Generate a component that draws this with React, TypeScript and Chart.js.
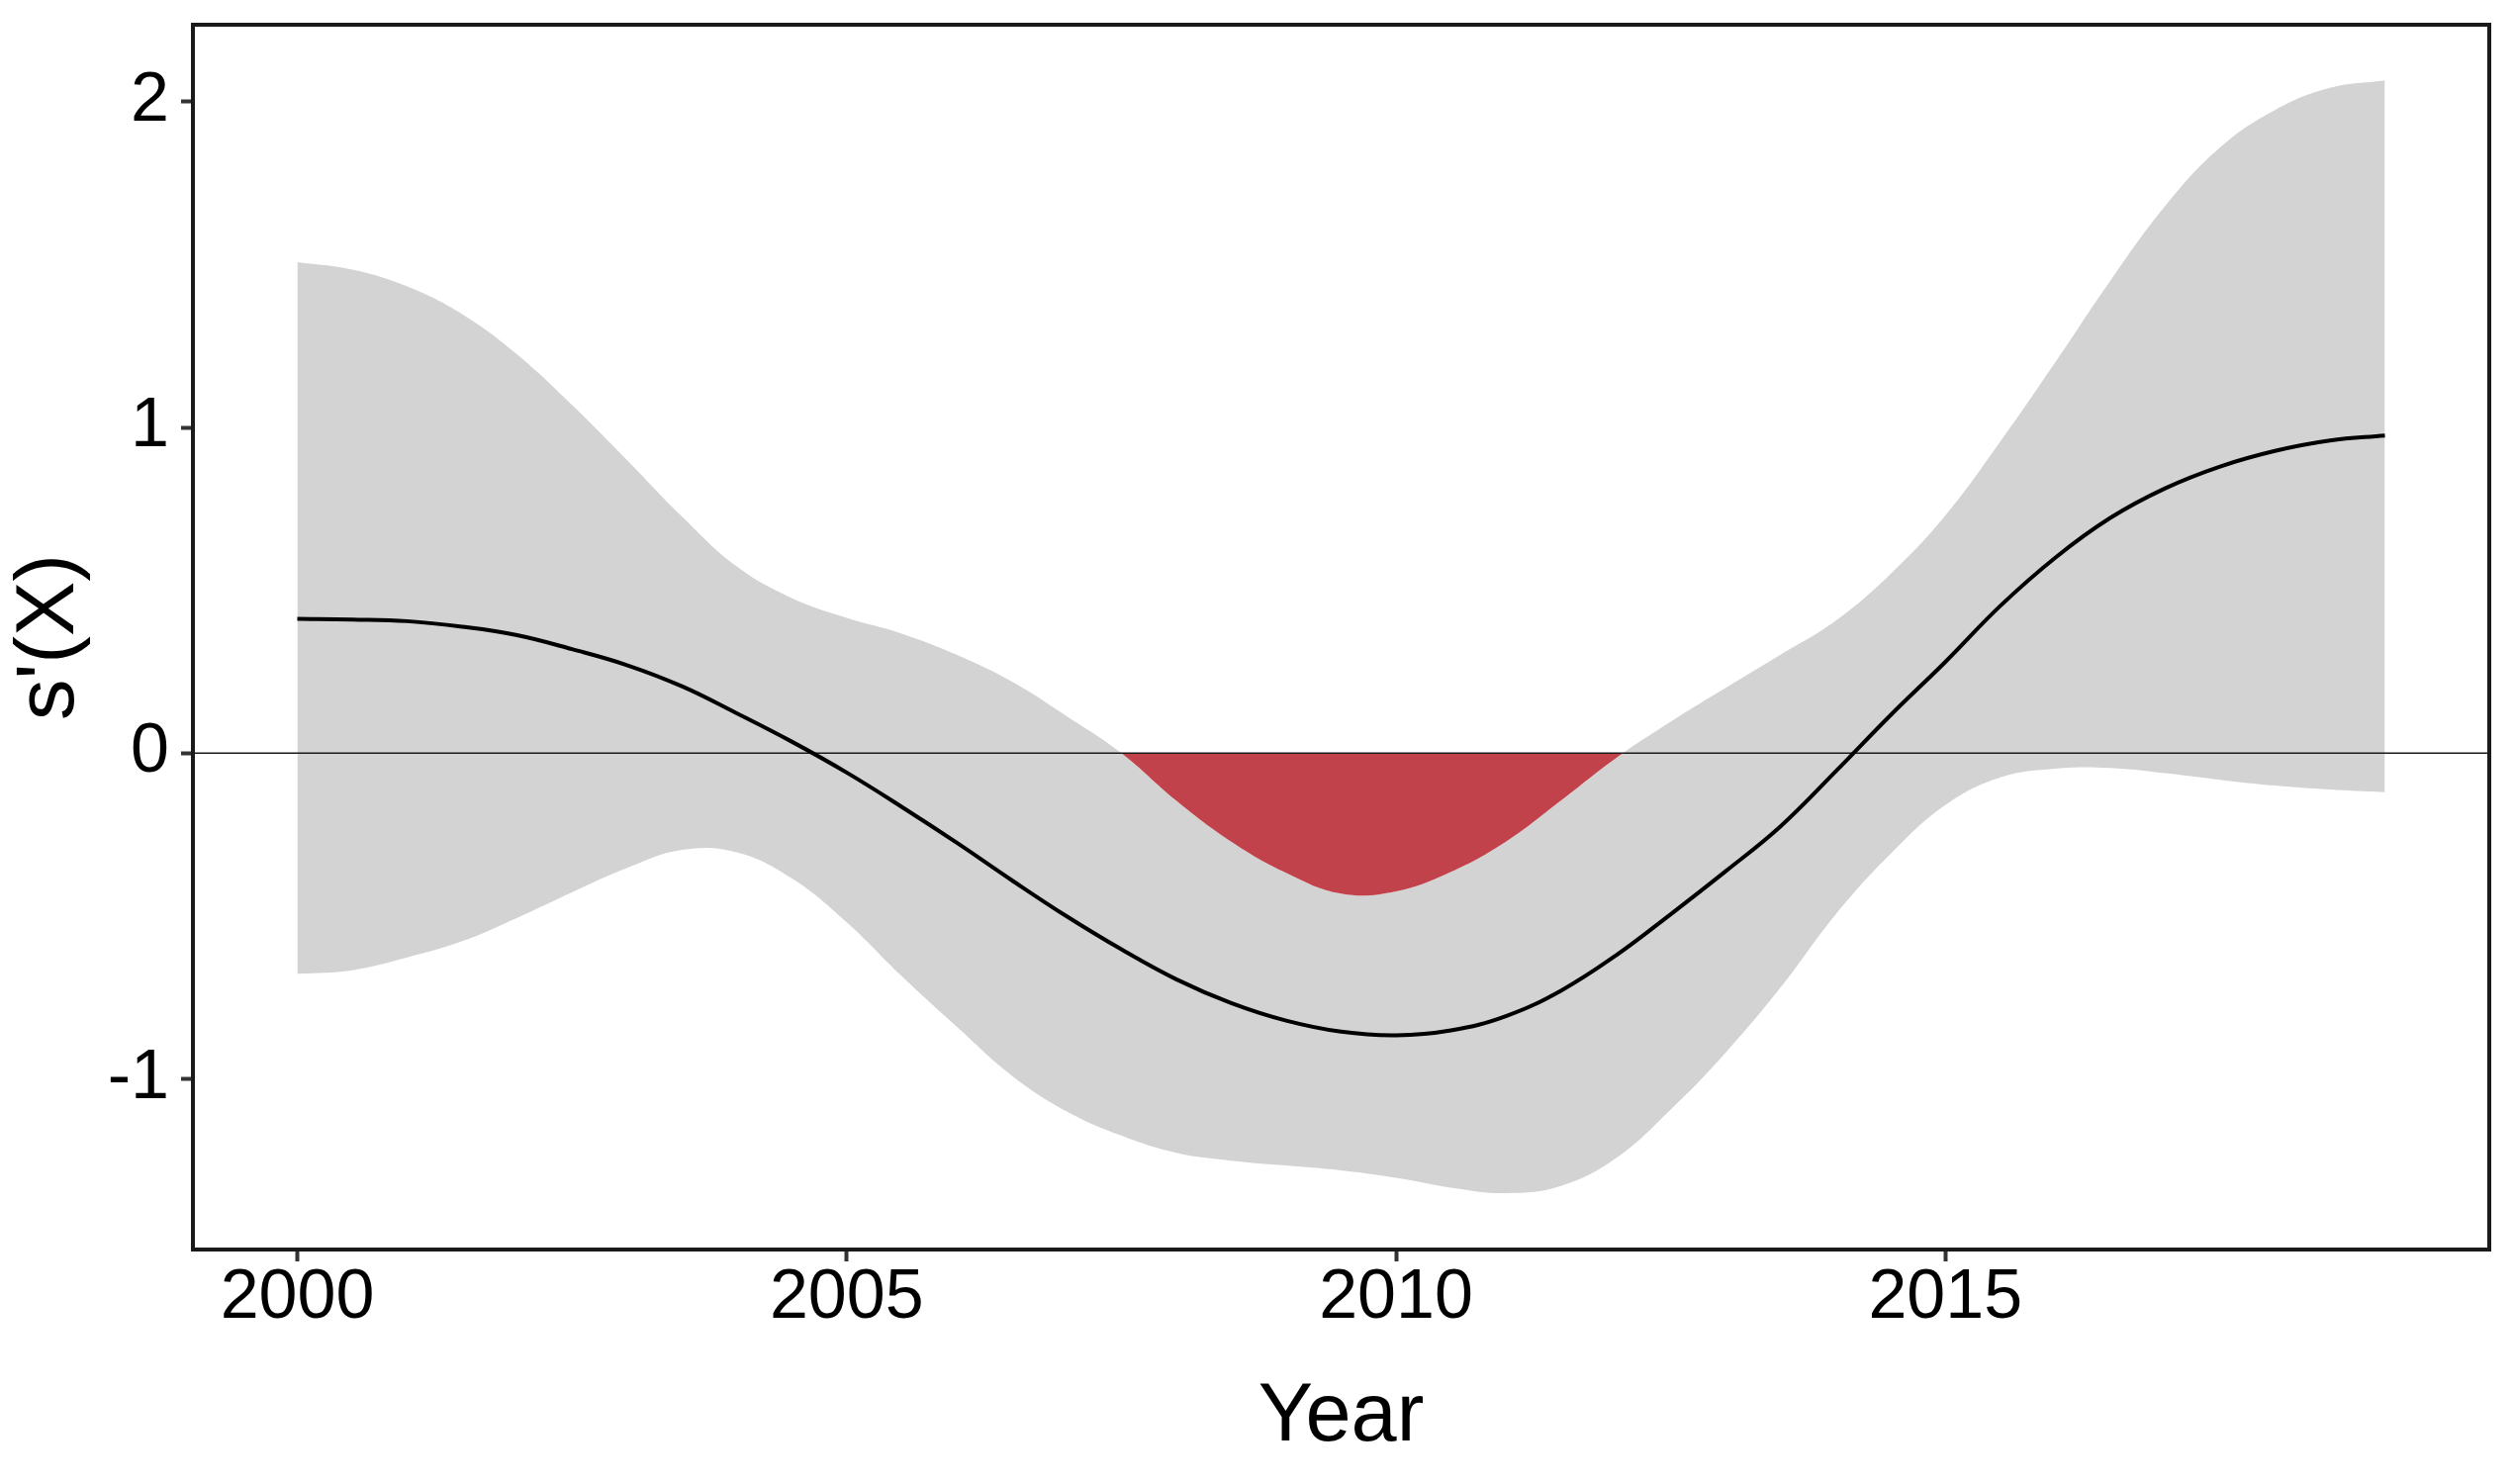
import React, { useEffect, useRef } from "react";
import { Chart, registerables } from "chart.js";

Chart.register(...registerables);

// Year grid (half-year steps)
const years = [
  2000, 2000.5, 2001, 2001.5, 2002, 2002.5, 2003, 2003.5, 2004, 2004.5,
  2005, 2005.5, 2006, 2006.5, 2007, 2007.5, 2008, 2008.5, 2009, 2009.5,
  2010, 2010.5, 2011, 2011.5, 2012, 2012.5, 2013, 2013.5, 2014, 2014.5,
  2015, 2015.5, 2016, 2016.5, 2017, 2017.5, 2018, 2018.5, 2019,
];

// Upper confidence bound of the derivative
const upperCI = [
  1.508, 1.485, 1.433, 1.348, 1.224, 1.069, 0.9, 0.727, 0.573, 0.476,
  0.415, 0.367, 0.302, 0.22, 0.114, 0.0, -0.146, -0.272, -0.368, -0.432,
  -0.425, -0.365, -0.272, -0.146, -0.016, 0.096, 0.2, 0.302, 0.406, 0.55,
  0.73, 0.957, 1.2, 1.45, 1.68, 1.86, 1.975, 2.043, 2.066,
];

// Estimated derivative s'(X)
const meanDeriv = [
  0.412, 0.41, 0.405, 0.388, 0.362, 0.319, 0.27, 0.205, 0.122, 0.035,
  -0.06, -0.165, -0.275, -0.39, -0.501, -0.603, -0.695, -0.768, -0.822, -0.856,
  -0.867, -0.852, -0.808, -0.73, -0.622, -0.495, -0.363, -0.225, -0.057, 0.116,
  0.28, 0.452, 0.6, 0.722, 0.813, 0.88, 0.928, 0.96, 0.975,
];

// Lower confidence bound of the derivative
const lowerCI = [
  -0.678, -0.667, -0.628, -0.578, -0.506, -0.428, -0.353, -0.297, -0.305, -0.385,
  -0.52, -0.685, -0.84, -0.99, -1.1, -1.175, -1.228, -1.252, -1.267, -1.282,
  -1.305, -1.335, -1.352, -1.33, -1.245, -1.095, -0.92, -0.72, -0.496, -0.31,
  -0.16, -0.075, -0.048, -0.046, -0.062, -0.082, -0.1, -0.112, -0.12,
];

const xTicks = [2000, 2005, 2010, 2015];
const yTicks = [-1, 0, 1, 2];

const FONT = '"Liberation Sans", Arial, Helvetica, sans-serif';
const TENSION = 0.4;

export default function App() {
  const ref = useRef<HTMLCanvasElement>(null);

  useEffect(() => {
    document.body.style.margin = "0";
    const canvas = ref.current;
    if (!canvas) return;
    const pts = (ys: number[]) => years.map((x, i) => ({ x, y: ys[i] }));

    const framePlugin = {
      id: "frameAndZero",
      beforeDatasetDraw(chart: any, args: any) {
        if (args.index !== 0) return;
        const { ctx, chartArea } = chart;
        const y0 = chart.scales.y.getPixelForValue(0);
        ctx.save();
        ctx.strokeStyle = "#1a1a1a";
        ctx.lineWidth = 1.5;
        ctx.beginPath();
        ctx.moveTo(chartArea.left, y0);
        ctx.lineTo(chartArea.right, y0);
        ctx.stroke();
        ctx.restore();
      },
      afterDraw(chart: any) {
        const { ctx, chartArea } = chart;
        ctx.save();
        ctx.strokeStyle = "#1a1a1a";
        ctx.lineWidth = 4;
        ctx.strokeRect(
          chartArea.left,
          chartArea.top,
          chartArea.right - chartArea.left,
          chartArea.bottom - chartArea.top
        );
        ctx.restore();
      },
    };

    const chart = new Chart(canvas, {
      type: "line",
      data: {
        datasets: [
          {
            label: "s'(X)",
            data: pts(meanDeriv),
            borderColor: "#000000",
            borderWidth: 4,
            pointRadius: 0,
            fill: false,
            tension: TENSION,
          },
          {
            label: "significant decrease",
            data: pts(upperCI),
            borderColor: "rgba(0,0,0,0)",
            borderWidth: 0,
            pointRadius: 0,
            fill: { target: "origin", above: "rgba(0,0,0,0)", below: "#c1424a" },
            tension: TENSION,
          },
          {
            label: "upper",
            data: pts(upperCI),
            borderColor: "rgba(0,0,0,0)",
            borderWidth: 0,
            backgroundColor: "#d3d3d3",
            pointRadius: 0,
            fill: "+1",
            tension: TENSION,
          },
          {
            label: "lower",
            data: pts(lowerCI),
            borderColor: "rgba(0,0,0,0)",
            borderWidth: 0,
            pointRadius: 0,
            fill: false,
            tension: TENSION,
          },
        ],
      },
      options: {
        responsive: false,
        maintainAspectRatio: false,
        devicePixelRatio: 1,
        animation: false,
        layout: { padding: { top: 25, right: 25, left: 0, bottom: 0 } },
        plugins: {
          legend: { display: false },
          tooltip: { enabled: false },
        },
        scales: {
          x: {
            type: "linear",
            min: 1999.05,
            max: 2019.95,
            afterBuildTicks: (s: any) => {
              s.ticks = xTicks.map((v) => ({ value: v }));
            },
            afterFit: (s: any) => {
              s.height = 237;
              s.paddingLeft = 0;
              s.paddingRight = 0;
            },
            ticks: {
              font: { family: FONT, size: 70, lineHeight: 1 },
              color: "#000000",
              padding: 3,
              maxRotation: 0,
              autoSkip: false,
              callback: (v: any) => String(v),
            },
            grid: {
              display: true,
              drawOnChartArea: false,
              drawTicks: true,
              tickLength: 12,
              tickWidth: 4,
              tickColor: "#333333",
            },
            border: { display: false },
            title: {
              display: true,
              text: "Year",
              color: "#000000",
              font: { family: FONT, size: 83, lineHeight: 1.2 },
              padding: { top: 0, bottom: 17 },
            },
          },
          y: {
            type: "linear",
            min: -1.525,
            max: 2.237,
            afterBuildTicks: (s: any) => {
              s.ticks = yTicks.map((v) => ({ value: v }));
            },
            afterFit: (s: any) => {
              s.width = 195;
              s.paddingTop = 0;
              s.paddingBottom = 0;
            },
            ticks: {
              font: { family: FONT, size: 70, lineHeight: 1 },
              color: "#000000",
              padding: 12,
              autoSkip: false,
              callback: (v: any) => String(v),
            },
            grid: {
              display: true,
              drawOnChartArea: false,
              drawTicks: true,
              tickLength: 12,
              tickWidth: 4,
              tickColor: "#333333",
            },
            border: { display: false },
            title: {
              display: true,
              text: "s'(X)",
              color: "#000000",
              font: { family: FONT, size: 83, lineHeight: 1.2 },
              padding: { top: 1, bottom: 0 },
            },
          },
        },
      },
      plugins: [framePlugin],
    } as any);

    return () => {
      chart.destroy();
    };
  }, []);

  return (
    <div style={{ position: "fixed", left: 0, top: 0, width: 2541, height: 1500, background: "#ffffff" }}>
      <canvas ref={ref} width={2541} height={1500} style={{ display: "block", width: 2541, height: 1500 }} />
    </div>
  );
}
